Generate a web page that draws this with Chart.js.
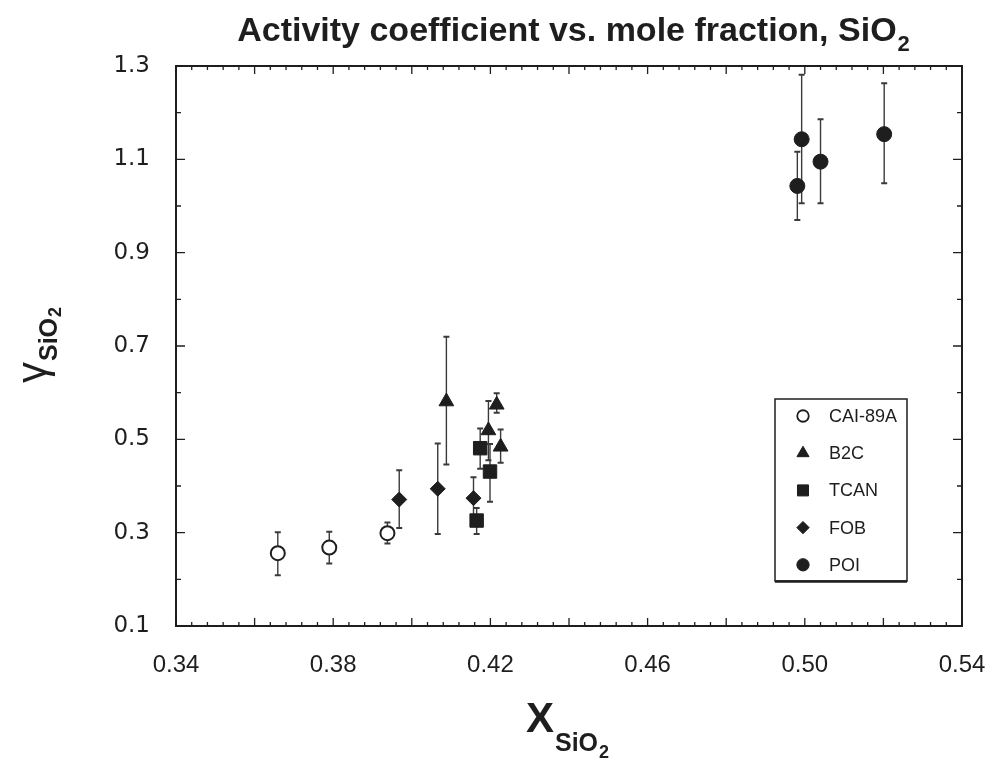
<!DOCTYPE html>
<html>
<head>
<meta charset="utf-8">
<script src="https://cdn.jsdelivr.net/npm/chart.js@4"></script>
<style>
  html, body { margin: 0; padding: 0; background: #fff; }
</style>
</head>
<body>
<canvas id="gammaChart" width="991" height="761"></canvas>
<script>
// values (x = mole fraction, y = activity coefficient, hi/lo = error bar ends)
const cai89aX = [0.3659, 0.3790, 0.3938];
const cai89aY = [0.256, 0.268, 0.299];
const cai89aHi = [0.301, 0.302, 0.322];
const cai89aLo = [0.209, 0.234, 0.277];

const b2cX = [0.4088, 0.4195, 0.4216, 0.4226];
const b2cY = [0.581, 0.519, 0.574, 0.484];
const b2cHi = [0.720, 0.582, 0.599, 0.521];
const b2cLo = [0.446, 0.455, 0.557, 0.450];

const tcanX = [0.4165, 0.4174, 0.4199];
const tcanY = [0.326, 0.481, 0.431];
const tcanHi = [0.353, 0.523, 0.490];
const tcanLo = [0.297, 0.437, 0.366];

const fobX = [0.3968, 0.4066, 0.4157];
const fobY = [0.371, 0.394, 0.374];
const fobHi = [0.434, 0.491, 0.419];
const fobLo = [0.310, 0.297, 0.335];

const poiX = [0.4981, 0.4992, 0.5040, 0.5202];
const poiY = [1.043, 1.143, 1.095, 1.154];
const poiHi = [1.116, 1.281, 1.186, 1.263];
const poiLo = [0.970, 1.006, 1.006, 1.049];

const xTicks = [0.34, 0.38, 0.42, 0.46, 0.50, 0.54];
const yTicks = [0.1, 0.3, 0.5, 0.7, 0.9, 1.1, 1.3];

const ink = '#1e1e1e';

function points(xs, ys, hi, lo) {
  return xs.map((x, i) => ({ x: x, y: ys[i], hi: hi[i], lo: lo[i] }));
}

const series = [
  { label: 'CAI-89A', data: points(cai89aX, cai89aY, cai89aHi, cai89aLo), pointStyle: 'circle', pointRadius: 7, open: true },
  { label: 'B2C', data: points(b2cX, b2cY, b2cHi, b2cLo), pointStyle: 'triangle', pointRadius: 8.5 },
  { label: 'TCAN', data: points(tcanX, tcanY, tcanHi, tcanLo), pointStyle: 'rect', pointRadius: 9.5 },
  { label: 'FOB', data: points(fobX, fobY, fobHi, fobLo), pointStyle: 'rectRot', pointRadius: 7.5 },
  { label: 'POI', data: points(poiX, poiY, poiHi, poiLo), pointStyle: 'circle', pointRadius: 7.5 }
];

// error bars under the markers
const errorBars = {
  id: 'errorBars',
  beforeDatasetsDraw(chart) {
    const ctx = chart.ctx;
    const xs = chart.scales.x, ys = chart.scales.y;
    ctx.save();
    ctx.strokeStyle = '#3a3a3a';
    chart.data.datasets.forEach(ds => {
      ds.data.forEach(p => {
        const px = xs.getPixelForValue(p.x);
        const top = ys.getPixelForValue(p.hi);
        const bot = ys.getPixelForValue(p.lo);
        ctx.lineWidth = 1.4;
        ctx.beginPath();
        ctx.moveTo(px, top);
        ctx.lineTo(px, bot);
        ctx.stroke();
        ctx.lineWidth = 2;
        ctx.beginPath();
        ctx.moveTo(px - 3, top); ctx.lineTo(px + 3, top);
        ctx.moveTo(px - 3, bot); ctx.lineTo(px + 3, bot);
        ctx.stroke();
      });
    });
    ctx.restore();
  }
};

// frame, inward ticks, titles and legend box
const decorations = {
  id: 'decorations',
  afterDraw(chart) {
    const ctx = chart.ctx;
    const a = chart.chartArea;
    const xs = chart.scales.x, ys = chart.scales.y;
    ctx.save();
    ctx.strokeStyle = ink;
    ctx.lineWidth = 2;
    ctx.strokeRect(a.left, a.top, a.right - a.left, a.bottom - a.top);

    ctx.lineWidth = 1.3;
    ctx.beginPath();
    for (let i = 0; i <= 50; i++) {
      const px = xs.getPixelForValue(0.34 + i * 0.004);
      const len = (i % 5 === 0) ? 8 : 4;
      ctx.moveTo(px, a.bottom); ctx.lineTo(px, a.bottom - len);
      ctx.moveTo(px, a.top); ctx.lineTo(px, a.top + len);
    }
    for (let i = 0; i <= 12; i++) {
      const py = ys.getPixelForValue(0.1 + i * 0.1);
      const len = (i % 2 === 0) ? 9 : 5;
      ctx.moveTo(a.left, py); ctx.lineTo(a.left + len, py);
      ctx.moveTo(a.right, py); ctx.lineTo(a.right - len, py);
    }
    ctx.stroke();

    ctx.fillStyle = ink;
    ctx.textBaseline = 'alphabetic';

    // chart title
    const tMain = 'Activity coefficient vs. mole fraction, SiO';
    ctx.font = 'bold 34px "Liberation Sans", Arial, sans-serif';
    const wMain = ctx.measureText(tMain).width;
    ctx.font = 'bold 22px "Liberation Sans", Arial, sans-serif';
    const wSub = ctx.measureText('2').width;
    let tx = 573 - (wMain + wSub) / 2;
    ctx.font = 'bold 34px "Liberation Sans", Arial, sans-serif';
    ctx.textAlign = 'left';
    ctx.fillText(tMain, tx, 41);
    ctx.font = 'bold 22px "Liberation Sans", Arial, sans-serif';
    ctx.fillText('2', tx + wMain + 1, 51);

    // x axis title
    ctx.font = 'bold 42px "Liberation Sans", Arial, sans-serif';
    ctx.fillText('X', 526, 732);
    ctx.font = 'bold 25px "Liberation Sans", Arial, sans-serif';
    ctx.fillText('SiO', 555, 751);
    const wSiO = ctx.measureText('SiO').width;
    ctx.font = 'bold 18px "Liberation Sans", Arial, sans-serif';
    ctx.fillText('2', 555 + wSiO + 1, 758);

    // y axis title, rotated
    ctx.save();
    ctx.translate(46, 383);
    ctx.rotate(-Math.PI / 2);
    ctx.font = '42px "Liberation Sans", Arial, sans-serif';
    ctx.fillText('\u03b3', 0, 0);
    const wG = ctx.measureText('\u03b3').width;
    ctx.font = 'bold 25px "Liberation Sans", Arial, sans-serif';
    ctx.fillText('SiO', wG + 1, 11);
    const wS = ctx.measureText('SiO').width;
    ctx.font = 'bold 18px "Liberation Sans", Arial, sans-serif';
    ctx.fillText('2', wG + 1 + wS + 1, 15);
    ctx.restore();

    // legend
    const lx = a.right - 187, ly = a.top + 333, lw = 132, lh = 182;
    ctx.fillStyle = '#fff';
    ctx.fillRect(lx, ly, lw, lh);
    ctx.lineWidth = 1.5;
    ctx.strokeStyle = ink;
    ctx.strokeRect(lx, ly, lw, lh);
    ctx.lineWidth = 2.5;
    ctx.beginPath();
    ctx.moveTo(lx, ly + lh + 0.5); ctx.lineTo(lx + lw, ly + lh + 0.5);
    ctx.stroke();
    ctx.font = '18px "Liberation Sans", Arial, sans-serif';
    ctx.textBaseline = 'middle';
    chart.data.datasets.forEach((ds, i) => {
      const cy = ly + 17 + i * 37.2;
      const cx = lx + 28;
      ctx.fillStyle = ds.open ? '#fff' : ink;
      ctx.strokeStyle = ink;
      ctx.lineWidth = ds.open ? 1.8 : 1;
      Chart.helpers.drawPoint(ctx, {
        pointStyle: ds.pointStyle,
        radius: ds.pointRadius * 0.82,
        borderWidth: ctx.lineWidth
      }, cx, cy);
      ctx.fillStyle = ink;
      ctx.fillText(ds.label, lx + 54, cy + 1);
    });
    ctx.restore();
  }
};

new Chart(document.getElementById('gammaChart'), {
  type: 'scatter',
  data: {
    datasets: series.map(s => ({
      label: s.label,
      data: s.data,
      pointStyle: s.pointStyle,
      pointRadius: s.pointRadius,
      pointHoverRadius: s.pointRadius,
      open: !!s.open,
      backgroundColor: s.open ? '#fff' : ink,
      borderColor: ink,
      borderWidth: s.open ? 2 : 1
    }))
  },
  options: {
    responsive: false,
    animation: false,
    layout: { padding: { left: 0, top: 66, right: 29, bottom: 0 } },
    plugins: {
      legend: { display: false },
      title: { display: false },
      tooltip: { enabled: false }
    },
    scales: {
      x: {
        type: 'linear',
        min: 0.34,
        max: 0.54,
        afterBuildTicks: scale => { scale.ticks = xTicks.map(v => ({ value: v })); },
        afterFit: scale => {
          scale.height = 135;
          scale.paddingLeft = 0;
          scale.paddingRight = 0;
        },
        grid: { display: false, drawTicks: false },
        border: { display: false },
        ticks: {
          padding: 25,
          color: ink,
          font: { family: '"Liberation Sans", Arial, sans-serif', size: 24 },
          callback: v => v.toFixed(2)
        }
      },
      y: {
        type: 'linear',
        min: 0.1,
        max: 1.3,
        afterBuildTicks: scale => { scale.ticks = yTicks.map(v => ({ value: v })); },
        afterFit: scale => {
          scale.width = 176;
          scale.paddingTop = 0;
          scale.paddingBottom = 0;
        },
        grid: { display: false, drawTicks: false },
        border: { display: false },
        ticks: {
          padding: 26,
          color: ink,
          font: { family: '"DejaVu Sans", sans-serif', size: 23 },
          callback: v => v.toFixed(1)
        }
      }
    }
  },
  plugins: [errorBars, decorations]
});
</script>
</body>
</html>
